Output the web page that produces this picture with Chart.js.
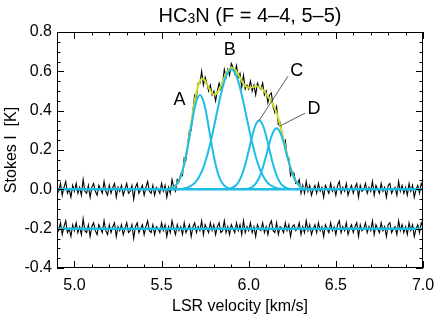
<!DOCTYPE html>
<html>
<head>
<meta charset="utf-8">
<script src="https://cdn.jsdelivr.net/npm/chart.js@4.4.0/dist/chart.umd.min.js"></script>
<style>
    html, body { margin: 0; padding: 0; background: #fff; }
</style>
</head>
<body>
<canvas id="myChart" width="436" height="320"></canvas>
<script>
// channel axis of the spectrum (km/s)
const vStart = 4.90;
const vStep = 0.01;

// observed Stokes I spectrum (K)
const spectrum = [
    .02, -.01, .03, -.03, .01, .04, -.02, 0, -.04, .02,
    -.01, .03, -.02, .01, -.03, .05, -.01, -.02, .02, -.04,
    .01, .03, -.01, -.03, .02, 0, -.02, .04, -.01, -.03,
    .02, -.02, .01, .03, -.04, .01, -.01, .02, -.03, 0,
    .03, -.02, -.01, .02, -.05, .01, .03, -.02, 0, .02,
    -.03, .01, .04, -.01, -.02, .02, -.03, .01, 0, -.02,
    .03, -.01, .02, -.04, .01, -.02, .05, .01, -.01, .05,
    .04, .08, .07, .16, .15, .23, .30, .30, .40, .48,
    .47, .54, .54, .60, .53, .57, .54, .50, .53, .48,
    .50, .45, .50, .54, .51, .54, .61, .57, .61, .58,
    .64, .62, .59, .63, .57, .59, .52, .58, .51, .53,
    .51, .55, .50, .53, .48, .54, .52, .51, .54, .48,
    .50, .44, .48, .49, .42, .39, .42, .33, .34, .29,
    .24, .25, .17, .16, .07, .09, .08, .03, .03, .05,
    -.02, .02, -.02, .04, -.01, .02, -.03, 0, .02, -.02,
    .03, -.01, .01, -.04, .02, 0, -.02, .03, -.01, .01,
    -.03, .02, .04, -.02, .01, -.01, .03, -.03, 0, .02,
    -.02, .01, .03, -.04, .02, -.01, 0, .03, -.02, .01,
    -.01, .04, -.03, .02, 0, -.02, .03, -.01, .01, -.04,
    .02, .03, -.02, 0, .01, -.03, .04, -.01, .02, -.02,
    .01, -.03, .03, -.01, .02, -.04, 0, .02, -.02, .03, .01
];

// residual, plotted at -0.2 K
const residual = [
    -.18, -.21, -.17, -.23, -.19, -.16, -.22, -.20, -.24, -.18,
    -.21, -.17, -.22, -.19, -.23, -.15, -.21, -.22, -.18, -.24,
    -.19, -.17, -.21, -.23, -.18, -.20, -.22, -.16, -.21, -.23,
    -.18, -.22, -.19, -.17, -.24, -.19, -.21, -.18, -.23, -.20,
    -.17, -.22, -.21, -.18, -.25, -.19, -.17, -.22, -.20, -.18,
    -.23, -.19, -.16, -.21, -.22, -.18, -.23, -.19, -.20, -.22,
    -.17, -.21, -.18, -.24, -.19, -.22, -.16, -.20, -.23, -.18,
    -.21, -.19, -.23, -.17, -.22, -.20, -.18, -.24, -.19, -.17,
    -.22, -.19, -.21, -.16, -.23, -.18, -.20, -.22, -.17, -.21,
    -.18, -.23, -.19, -.17, -.22, -.21, -.16, -.22, -.19, -.23,
    -.18, -.20, -.22, -.17, -.21, -.18, -.23, -.16, -.22, -.19,
    -.21, -.17, -.22, -.19, -.24, -.18, -.20, -.21, -.17, -.22,
    -.19, -.23, -.18, -.16, -.21, -.22, -.17, -.23, -.19, -.20,
    -.22, -.17, -.21, -.18, -.24, -.19, -.18, -.21, -.20, -.17,
    -.23, -.19, -.22, -.16, -.21, -.18, -.23, -.20, -.18, -.22,
    -.17, -.21, -.19, -.24, -.18, -.20, -.22, -.17, -.21, -.19,
    -.23, -.18, -.16, -.22, -.19, -.21, -.17, -.23, -.20, -.18,
    -.22, -.19, -.17, -.24, -.18, -.21, -.20, -.17, -.22, -.19,
    -.21, -.16, -.23, -.18, -.20, -.22, -.17, -.21, -.19, -.24,
    -.18, -.17, -.22, -.20, -.19, -.23, -.16, -.21, -.18, -.22,
    -.19, -.23, -.17, -.21, -.18, -.24, -.20, -.18, -.22, -.17, -.19
];

// fitted profile and gaussian components, sampled every 0.02 km/s
const fineStep = 0.02;
const fitStart = 5.50;
const fit = [.000, .001, .002, .007, .019, .046, .095, .174, .279, .394, .492, .552, .561, .536, .501,
    .482, .492, .525, .569, .603, .618, .610, .584, .552, .527, .517, .519, .524, .521, .508,
    .485, .460, .430, .388, .328, .255, .177, .110, .060, .029, .012, .005, .001, .000];

const compAStart = 5.52;
const compA = [.001, .002, .007, .019, .044, .092, .167, .265, .369, .449, .48, .449, .369, .265, .167, .092, .044, .019, .007, .002, .001];
const compBStart = 5.60;
const compB = [.002, .003, .007, .014, .025, .043, .072, .112, .167, .236, .315, .400, .481, .549, .594, .61,
    .594, .549, .481, .400, .315, .236, .167, .112, .072, .043, .025, .014, .007, .003, .002];
const compCStart = 5.86;
const compC = [.001, .002, .006, .015, .035, .071, .126, .197, .271, .328, .35, .328, .271, .197, .126, .071, .035, .015, .006, .002, .001];
const compDStart = 5.96;
const compD = [.000, .001, .005, .012, .029, .059, .108, .171, .238, .290, .31, .290, .238, .171, .108, .059, .029, .012, .005, .001, .000];

// zero levels of spectrum and residual
const baseLevels = [0, -0.2];
const xTicks = [5.0, 5.5, 6.0, 6.5, 7.0];
const yTicks = [-0.4, -0.2, 0.0, 0.2, 0.4, 0.6, 0.8];

const FONT = "'Liberation Sans', Arial, Helvetica, sans-serif";
const CYAN = '#1fbde6';
const YELLOW = '#cfdb2e';
const X_RANGE = [4.9, 7.0];

function toPoints(start, step, vals) {
    return vals.map((y, i) => ({ x: +(start + i * step).toFixed(3), y: y }));
}

// component labels and leader lines (data coords)
const notes = [
    { text: 'A', x: 5.603, y: 0.453 },
    { text: 'B', x: 5.891, y: 0.709 },
    { text: 'C', x: 6.275, y: 0.600, from: [6.225, 0.575], to: [6.06, 0.35] },
    { text: 'D', x: 6.375, y: 0.407, from: [6.323, 0.387], to: [6.174, 0.32] }
];

const frame = {
    id: 'frame',
    afterDatasetsDraw(chart) {
        const { ctx, chartArea: a, scales: { x, y } } = chart;
        ctx.save();
        ctx.strokeStyle = '#000';
        ctx.lineWidth = 1;
        ctx.strokeRect(a.left + 0.5, a.top + 0.5, a.right - a.left - 1, a.bottom - a.top - 1);
        ctx.beginPath();
        for (let k = 49; k <= 70; k++) {
            const px = Math.round(x.getPixelForValue(k / 10)) + 0.5;
            const len = k % 5 === 0 ? 7 : 3.5;
            ctx.moveTo(px, a.bottom); ctx.lineTo(px, a.bottom - len);
            ctx.moveTo(px, a.top); ctx.lineTo(px, a.top + len);
        }
        for (let k = -8; k <= 16; k++) {
            const py = Math.round(y.getPixelForValue(k * 0.05)) + 0.5;
            const len = k % 4 === 0 ? 7 : 3.5;
            ctx.moveTo(a.left, py); ctx.lineTo(a.left + len, py);
            ctx.moveTo(a.right, py); ctx.lineTo(a.right - len, py);
        }
        ctx.stroke();

        // leader lines + letters
        ctx.strokeStyle = '#333';
        ctx.lineWidth = 0.8;
        notes.forEach(n => {
            if (n.from) {
                ctx.beginPath();
                ctx.moveTo(x.getPixelForValue(n.from[0]), y.getPixelForValue(n.from[1]));
                ctx.lineTo(x.getPixelForValue(n.to[0]), y.getPixelForValue(n.to[1]));
                ctx.stroke();
            }
        });
        ctx.fillStyle = '#000';
        ctx.font = '18px ' + FONT;
        ctx.textAlign = 'center';
        ctx.textBaseline = 'middle';
        notes.forEach(n => {
            ctx.fillText(n.text, x.getPixelForValue(n.x), y.getPixelForValue(n.y));
        });

        // title with subscript 3
        const big = '20px ' + FONT, small = '14px ' + FONT;
        const parts = [['HC', big, 0], ['3', small, 1], ['N (F = 4\u20134, 5\u20135)', big, 0]];
        let w = 0;
        parts.forEach(p => { ctx.font = p[1]; w += ctx.measureText(p[0]).width; });
        let cx = 250 - w / 2;
        ctx.textAlign = 'left';
        ctx.textBaseline = 'alphabetic';
        parts.forEach(p => {
            ctx.font = p[1];
            ctx.fillText(p[0], cx, 22 + p[2]);
            cx += ctx.measureText(p[0]).width;
        });
        ctx.restore();
    }
};

const line = (data, color, width, order, tension) => ({
    data: data,
    borderColor: color,
    borderWidth: width,
    pointRadius: 0,
    tension: tension,
    fill: false,
    order: order
});

new Chart(document.getElementById('myChart'), {
    type: 'line',
    data: {
        datasets: [
            line(X_RANGE.map(v => ({ x: v, y: baseLevels[0] })), CYAN, 2.5, 0, 0),
            line(X_RANGE.map(v => ({ x: v, y: baseLevels[1] })), CYAN, 2.5, 0, 0),
            line(toPoints(compAStart, fineStep, compA), CYAN, 2, 1, 0.4),
            line(toPoints(compBStart, fineStep, compB), CYAN, 2, 1, 0.4),
            line(toPoints(compCStart, fineStep, compC), CYAN, 2, 1, 0.4),
            line(toPoints(compDStart, fineStep, compD), CYAN, 2, 1, 0.4),
            line(toPoints(fitStart, fineStep, fit), YELLOW, 2, 2, 0.4),
            line(toPoints(vStart, vStep, spectrum), '#000', 1.1, 3, 0),
            line(toPoints(vStart, vStep, residual), '#000', 1.1, 3, 0)
        ]
    },
    options: {
        responsive: false,
        animation: false,
        layout: { padding: { top: 32, right: 13, left: 0, bottom: 0 } },
        plugins: {
            legend: { display: false },
            tooltip: { enabled: false },
            title: { display: false }
        },
        scales: {
            x: {
                type: 'linear',
                min: X_RANGE[0],
                max: X_RANGE[1],
                afterBuildTicks: s => { s.ticks = xTicks.map(v => ({ value: v })); },
                afterFit: s => { s.height = 52; s.paddingLeft = 0; s.paddingRight = 0; },
                grid: { display: false, drawTicks: false },
                border: { display: false },
                ticks: {
                    color: '#000',
                    padding: 8,
                    maxRotation: 0,
                    font: { family: FONT, size: 16 },
                    callback: v => v.toFixed(1)
                },
                title: {
                    display: true,
                    text: 'LSR velocity [km/s]',
                    color: '#000',
                    font: { family: FONT, size: 16 },
                    padding: { top: 0, bottom: 4 }
                }
            },
            y: {
                min: -0.4,
                max: 0.8,
                afterBuildTicks: s => { s.ticks = yTicks.map(v => ({ value: v })); },
                afterFit: s => { s.width = 57; s.paddingTop = 0; s.paddingBottom = 0; },
                grid: { display: false, drawTicks: false },
                border: { display: false },
                ticks: {
                    color: '#000',
                    padding: 5,
                    font: { family: FONT, size: 16 },
                    callback: v => v.toFixed(1)
                },
                title: {
                    display: true,
                    text: 'Stokes I  [K]',
                    color: '#000',
                    font: { family: FONT, size: 16 },
                    padding: { top: 2, bottom: 0 }
                }
            }
        }
    },
    plugins: [frame]
});
</script>
</body>
</html>
